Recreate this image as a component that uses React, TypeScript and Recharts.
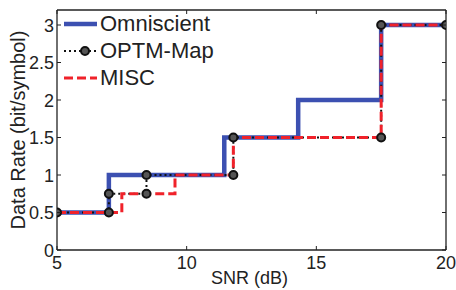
import React from "react";
import { LineChart, Line, XAxis, YAxis, Label } from "recharts";

// series values (x = SNR in dB, y = data rate)
const omniX = [5, 7, 7, 11.45, 11.45, 14.3, 14.3, 17.5, 17.5, 20];
const omniY = [0.5, 0.5, 1, 1, 1.5, 1.5, 2, 2, 3, 3];
const optmX = [5, 7, 7, 8.45, 8.45, 11.8, 11.8, 17.5, 17.5, 20];
const optmY = [0.5, 0.5, 0.75, 0.75, 1, 1, 1.5, 1.5, 3, 3];
const miscX = [5, 7.5, 7.5, 9.55, 9.55, 11.8, 11.8, 17.5, 17.5, 20];
const miscY = [0.5, 0.5, 0.75, 0.75, 1, 1, 1.5, 1.5, 3, 3];

const xTicks = [5, 10, 15, 20];
const yTicks = [0, 0.5, 1, 1.5, 2, 2.5, 3];
const seriesNames = ["Omniscient", "OPTM-Map", "MISC"];

const toPoints = (xs: number[], ys: number[]) => xs.map((x, i) => ({ x, y: ys[i] }));

const omniData = toPoints(omniX, omniY);
const optmData = toPoints(optmX, optmY);
const miscData = toPoints(miscX, miscY);

const FONT = '"Liberation Sans", Arial, sans-serif';
const TEXT = "#222";
const AXIS = "#222";
const BLUE = "#3c50b1";
const RED = "#f0222a";
const BLACK = "#111";

const BottomTick = (props: any) => {
    const { x, y, payload } = props;
    return (
        <g>
            <line x1={x} y1={y} x2={x} y2={y - 4} stroke={AXIS} strokeWidth={1} />
            <text x={x} y={y + 19} textAnchor="middle" fontSize={18} fontFamily={FONT} fill={TEXT}>
                {payload.value}
            </text>
        </g>
    );
};

const LeftTick = (props: any) => {
    const { x, y, payload } = props;
    return (
        <g>
            <line x1={x} y1={y} x2={x + 4} y2={y} stroke={AXIS} strokeWidth={1} />
            <text x={x - 3} y={y + 6.5} textAnchor="end" fontSize={18} fontFamily={FONT} fill={TEXT}>
                {payload.value}
            </text>
        </g>
    );
};

const TopTick = (props: any) => {
    const { x, y } = props;
    return <line x1={x} y1={y} x2={x} y2={y + 4} stroke={AXIS} strokeWidth={1} />;
};

const RightTick = (props: any) => {
    const { x, y } = props;
    return <line x1={x} y1={y} x2={x - 4} y2={y} stroke={AXIS} strokeWidth={1} />;
};

const YTitle = (props: any) => {
    const vb = props.viewBox;
    const cx = vb.x + 18;
    const cy = vb.y + vb.height / 2;
    return (
        <text x={cx} y={cy} transform={`rotate(-90 ${cx} ${cy})`} textAnchor="middle" dominantBaseline="central"
            fontSize={20} fontFamily={FONT} fill={TEXT}>
            Data Rate (bit/symbol)
        </text>
    );
};

const XTitle = (props: any) => {
    const vb = props.viewBox;
    return (
        <text x={vb.x + vb.width / 2 - 2} y={vb.y + 34} textAnchor="middle" fontSize={18} fontFamily={FONT} fill={TEXT}>
            SNR (dB)
        </text>
    );
};

const LegendBox = () => {
    const row = { display: "flex", alignItems: "center", height: 27 } as const;
    const txt = { fontSize: 22, fontFamily: FONT, color: TEXT, marginLeft: 2, lineHeight: "27px" };
    return (
        <div style={{ position: "absolute", left: 62, top: 10 }}>
            <div style={row}>
                <svg width={36} height={12}>
                    <line x1={2} y1={6} x2={35} y2={6} stroke={BLUE} strokeWidth={4.5} />
                </svg>
                <span style={txt}>{seriesNames[0]}</span>
            </div>
            <div style={row}>
                <svg width={36} height={12}>
                    <line x1={2} y1={6} x2={35} y2={6} stroke={BLACK} strokeWidth={2} strokeDasharray="2 3" />
                    <circle cx={23} cy={6} r={4} fill="#555" stroke={BLACK} strokeWidth={2} />
                </svg>
                <span style={txt}>{seriesNames[1]}</span>
            </div>
            <div style={row}>
                <svg width={36} height={12}>
                    <line x1={2} y1={6} x2={35} y2={6} stroke={RED} strokeWidth={3} strokeDasharray="9 4" />
                </svg>
                <span style={txt}>{seriesNames[2]}</span>
            </div>
        </div>
    );
};

const App = () => {
    return (
        <div style={{ position: "absolute", left: 0, top: 0, width: 456, height: 290, background: "#fff" }}>
            <LineChart width={456} height={290} margin={{ top: 9, right: 9, left: 0, bottom: 0 }}>
                <XAxis dataKey="x" type="number" domain={[5, 20]} ticks={xTicks} allowDataOverflow
                    height={40} tickSize={0} tickMargin={0} tickLine={false} tick={BottomTick}
                    axisLine={{ stroke: AXIS, strokeWidth: 1.3 }}>
                    <Label content={XTitle} />
                </XAxis>
                <XAxis xAxisId="top" orientation="top" dataKey="x" type="number" domain={[5, 20]} ticks={xTicks}
                    allowDataOverflow height={1} tickSize={0} tickMargin={0} tickLine={false} tick={TopTick}
                    axisLine={{ stroke: AXIS, strokeWidth: 1.3 }} />
                <YAxis type="number" domain={[0, 3.2]} ticks={yTicks} allowDataOverflow width={57}
                    tickSize={0} tickMargin={0} tickLine={false} tick={LeftTick}
                    axisLine={{ stroke: AXIS, strokeWidth: 1.3 }}>
                    <Label content={YTitle} />
                </YAxis>
                <YAxis yAxisId="right" orientation="right" type="number" domain={[0, 3.2]} ticks={yTicks}
                    allowDataOverflow width={1} tickSize={0} tickMargin={0} tickLine={false} tick={RightTick}
                    axisLine={{ stroke: AXIS, strokeWidth: 1.3 }} />
                <Line data={omniData} dataKey="y" type="linear" stroke={BLUE} strokeWidth={4.5}
                    dot={false} activeDot={false} isAnimationActive={false} />
                <Line data={optmData} dataKey="y" type="linear" stroke={BLACK} strokeWidth={2}
                    strokeDasharray="2 3" dot={false} activeDot={false} isAnimationActive={false} />
                <Line data={miscData} dataKey="y" type="linear" stroke={RED} strokeWidth={3}
                    strokeDasharray="9 4" dot={false} activeDot={false} isAnimationActive={false} />
                <Line data={optmData} dataKey="y" type="linear" stroke="none" xAxisId="top" yAxisId="right"
                    dot={{ r: 4, fill: "#555", stroke: BLACK, strokeWidth: 2 }} activeDot={false}
                    isAnimationActive={false} legendType="none" />
            </LineChart>
            <LegendBox />
        </div>
    );
};

export default App;
